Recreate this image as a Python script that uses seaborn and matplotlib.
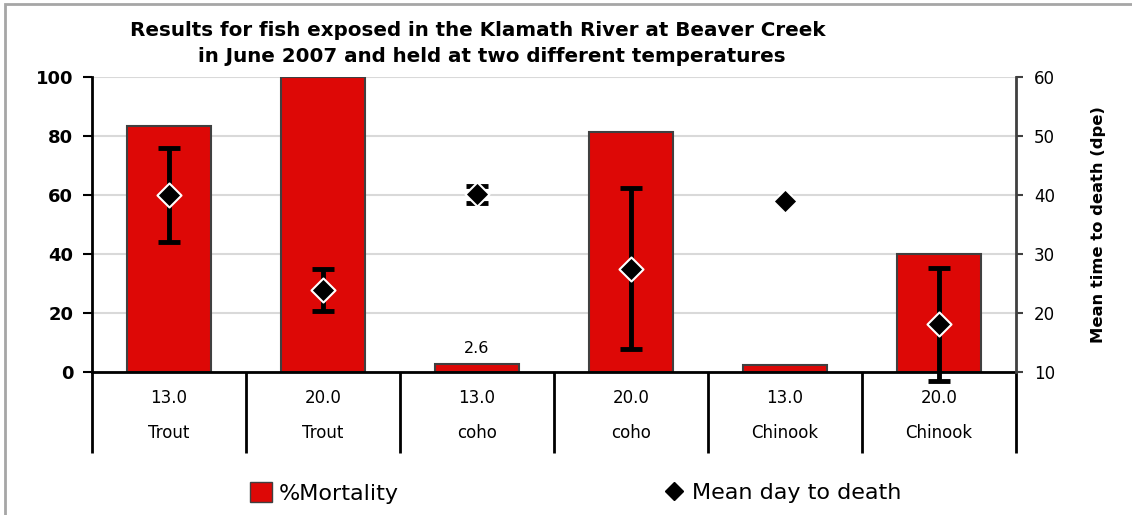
import numpy as np
import pandas as pd
import matplotlib
matplotlib.use("Agg")
import matplotlib.pyplot as plt
import matplotlib.transforms as mtransforms
from matplotlib.patches import Rectangle, Patch
from matplotlib.lines import Line2D
import seaborn as sns

# data
temperature = ["13.0", "20.0", "13.0", "20.0", "13.0", "20.0"]
species = ["Trout", "Trout", "coho", "coho", "Chinook", "Chinook"]
mortality = [83.3, 100.0, 2.6, 81.5, 2.3, 40.0]
mean_day = [40.0, 23.9, 40.1, 27.5, 39.0, 18.1]
mean_day_err = [8.0, 3.6, 1.5, 13.6, np.nan, 9.6]
bar_labels = ["", "", "2.6", "", "", ""]

df = pd.DataFrame({
    "group": [f"{t}\n{s}" for t, s in zip(temperature, species)],
    "mortality": mortality,
    "mean_day": mean_day,
    "err": mean_day_err,
})
xpos = np.arange(len(df))

sns.set_style("white")
plt.rcParams["font.family"] = ["DejaVu Sans"]
plt.rcParams.update({"text.color": "black", "axes.labelcolor": "black",
                     "xtick.color": "black", "ytick.color": "black"})

fig = plt.figure(figsize=(11.32, 5.15), dpi=100)
ax = fig.add_axes([0.0813, 0.2777, 0.8162, 0.5728])

red = "#DD0806"
sns.barplot(data=df, x="group", y="mortality", color=red, edgecolor="#404040",
            linewidth=1.5, width=0.54, saturation=1, ax=ax, zorder=2)
ax.bar_label(ax.containers[0], labels=bar_labels, padding=6, fontsize=11.5,
             color="black")

ax.set_xlim(-0.5, len(df) - 0.5)
ax.set_ylim(0, 100)
ax.set_yticks(np.arange(0, 101, 20))
ax.set_axisbelow(True)
ax.yaxis.grid(True, color="#D9D9D9", lw=1.5)
ax.set_xlabel("")
ax.set_ylabel("")
for lab in ax.get_yticklabels():
    lab.set_fontweight("bold")
ax.tick_params(axis="y", direction="out", length=6.5, width=1.5, pad=7,
               labelsize=13, left=True, color="black", labelcolor="black")

# two-level category axis
ax.set_xticks(xpos)
ax.set_xticklabels([])
ax.tick_params(axis="x", which="major", length=0)
ax.set_xticks(np.arange(-0.5, len(df)), minor=True)
ax.tick_params(axis="x", which="minor", direction="out", length=58, width=2,
               color="black", bottom=True)
trans = mtransforms.blended_transform_factory(ax.transData, ax.transAxes)
for i, (t, s) in enumerate(zip(temperature, species)):
    ax.text(i, -0.088, t, transform=trans, ha="center", va="center", fontsize=12)
    ax.text(i, -0.207, s, transform=trans, ha="center", va="center", fontsize=12)

for side in ["left", "bottom"]:
    ax.spines[side].set_color("black")
    ax.spines[side].set_linewidth(2)
ax.spines["top"].set_visible(False)
ax.spines["right"].set_visible(False)

# secondary axis: mean day to death
ax2 = ax.twinx()
ax2.set_ylim(10, 60)
ax2.set_yticks(np.arange(10, 61, 10))
ax2.errorbar(xpos, df["mean_day"], yerr=df["err"], fmt="none", ecolor="black",
             elinewidth=3.5, capsize=8, capthick=3.5, zorder=2, clip_on=False)
sns.scatterplot(x=xpos, y=df["mean_day"], marker="D", s=150, color="black",
                edgecolor="white", linewidth=1.5, ax=ax2, zorder=3, clip_on=False,
                legend=False)
ax2.set_xlim(-0.5, len(df) - 0.5)
ax2.tick_params(axis="y", direction="out", length=5, width=1.5, pad=8,
                labelsize=12, right=True, color="#404040", labelcolor="black")
ax2.set_ylabel("Mean time to death (dpe)", fontsize=11.8, fontweight="bold",
               labelpad=26)
for side in ["left", "top", "bottom"]:
    ax2.spines[side].set_visible(False)
ax2.spines["right"].set_color("#404040")
ax2.spines["right"].set_linewidth(2)

fig.text(478 / 1132, 1 - 31 / 515,
         "Results for fish exposed in the Klamath River at Beaver Creek",
         ha="center", va="center", fontsize=14.3, fontweight="bold")
fig.text(492 / 1132, 1 - 57 / 515,
         "in June 2007 and held at two different temperatures",
         ha="center", va="center", fontsize=14.3, fontweight="bold")

# legends
h1 = Patch(facecolor=red, edgecolor="#404040", label="%Mortality")
h2 = Line2D([], [], marker="D", color="black", ls="none", markersize=9,
            label="Mean day to death")
fig.legend(handles=[h1], loc="center left", bbox_to_anchor=(230 / 1132, 1 - 493 / 515),
           frameon=False, fontsize=16, handlelength=1.0, handleheight=1.0,
           handletextpad=0.3)
fig.legend(handles=[h2], loc="center left", bbox_to_anchor=(643 / 1132, 1 - 493 / 515),
           frameon=False, fontsize=16, handlelength=1.0, handletextpad=0.3)

# chart frame
fig.patches.append(Rectangle((5 / 1132, -0.1), 1.2, 1.1 - 4 / 515,
                             transform=fig.transFigure, fill=False,
                             edgecolor="#A6A6A6", lw=2))

fig.savefig("out.png", dpi=100)
